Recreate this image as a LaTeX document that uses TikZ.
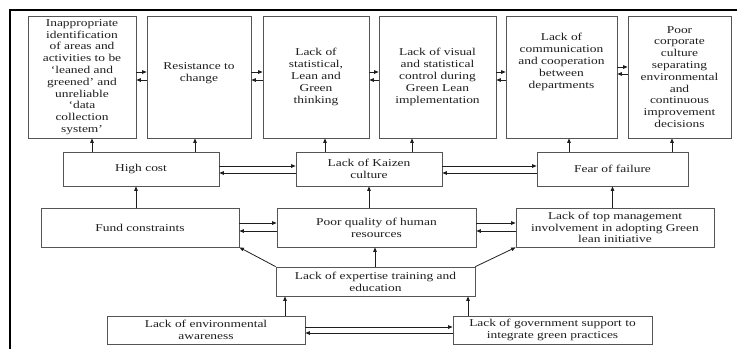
\documentclass[tikz,border=0pt]{standalone}
\usepackage{fontspec}
\setmainfont{Liberation Serif}[FakeStretch=1.28]
\usetikzlibrary{arrows.meta}
\definecolor{boxgray}{RGB}{85,85,85}
\definecolor{inkgray}{RGB}{30,30,30}

\begin{document}
\begin{tikzpicture}[x=1pt, y=-1pt,
    box/.style={draw=boxgray, line width=0.8pt, inner sep=0pt, align=center, text=inkgray,
      font=\fontsize{10.5}{11.8}\selectfont},
    topbox/.style={box, minimum height=122pt},
    arr/.style={-{Triangle[length=4.5pt,width=3.6pt]}, inkgray, line width=0.8pt}]
  \useasboundingbox (0,0) rectangle (737,349);
  % frame
  \draw[line width=2.4pt] (10,349) -- (10,10) -- (737,10);

  % top row
  \node[topbox, minimum width=108pt] (inap) at (82,77) {Inappropriate\\identification\\of areas and\\activities to be\\`leaned and\\greened' and\\unreliable\\`data\\collection\\system'};
  \node[topbox, minimum width=104pt] (resist) at (199,77) {};
  \node[box, draw=none] (resisttext) at (199,73) {Resistance to\\change};
  \node[topbox, minimum width=106pt] (stat) at (316,77) {Lack of\\statistical,\\Lean and\\Green\\thinking};
  \node[topbox, minimum width=117pt] (visual) at (437.5,77) {Lack of visual\\and statistical\\control during\\Green Lean\\implementation};
  \node[topbox, minimum width=111pt] (comm) at (561.5,77) {};
  \node[box, draw=none] (commtext) at (561.5,62) {Lack of\\communication\\and cooperation\\between\\departments};
  \node[topbox, minimum width=103pt] (culture) at (679.5,77) {Poor\\corporate\\culture\\separating\\environmental\\and\\continuous\\improvement\\decisions};

  % second row
  \node[box, minimum width=156pt, minimum height=34pt] (cost) at (141,169) {High cost};
  \node[box, minimum width=146pt, minimum height=34pt] (kaizen) at (369,169) {Lack of Kaizen\\culture};
  \node[box, minimum width=151pt, minimum height=34pt] (fear) at (612.5,169) {Fear of failure};

  % third row
  \node[box, minimum width=198pt, minimum height=39pt] (fund) at (140,227.5) {Fund constraints};
  \node[box, minimum width=199pt, minimum height=39pt] (human) at (376.5,227.5) {Poor quality of human\\resources};
  \node[box, minimum width=198pt, minimum height=39pt] (mgmt) at (615,227.5) {Lack of top management\\involvement in adopting Green\\lean initiative};

  % lower rows
  \node[box, minimum width=199pt, minimum height=29pt] (expert) at (375.5,281.5) {Lack of expertise training and\\education};
  \node[box, minimum width=198pt, minimum height=28pt] (env) at (206,330) {Lack of environmental\\awareness};
  \node[box, minimum width=199pt, minimum height=28pt] (gov) at (552.5,330) {Lack of government support to\\integrate green practices};

  % links along the top row
  \foreach \a/\b in {inap/resist, resist/stat, stat/visual, visual/comm} {
    \draw[arr] ([yshift=5pt]\a.east) -- ([yshift=5pt]\b.west);
    \draw[arr] ([yshift=-3pt]\b.west) -- ([yshift=-3pt]\a.east);
  }
  \draw[arr] ([yshift=10pt]comm.east) -- ([yshift=10pt]culture.west);
  \draw[arr] ([yshift=3pt]culture.west) -- ([yshift=3pt]comm.east);

  % second row up to top row
  \draw[arr] ([xshift=10pt]inap.south |- cost.north) -- ([xshift=10pt]inap.south);
  \draw[arr] ([xshift=-4pt]resist.south |- cost.north) -- ([xshift=-4pt]resist.south);
  \draw[arr] ([xshift=9pt]stat.south |- kaizen.north) -- ([xshift=9pt]stat.south);
  \draw[arr] ([xshift=-25.5pt]visual.south |- kaizen.north) -- ([xshift=-25.5pt]visual.south);
  \draw[arr] ([xshift=7.5pt]comm.south |- fear.north) -- ([xshift=7.5pt]comm.south);
  \draw[arr] ([xshift=-7.5pt]culture.south |- fear.north) -- ([xshift=-7.5pt]culture.south);

  % second row links
  \foreach \a/\b in {cost/kaizen, kaizen/fear} {
    \draw[arr] ([yshift=3pt]\a.east) -- ([yshift=3pt]\b.west);
    \draw[arr] ([yshift=-4pt]\b.west) -- ([yshift=-4pt]\a.east);
  }

  % third row
  \draw[arr] ([xshift=-5pt]cost.south |- fund.north) -- ([xshift=-5pt]cost.south);
  \draw[arr] (kaizen.south |- human.north) -- (kaizen.south);
  \draw[arr] (fear.south |- mgmt.north) -- (fear.south);
  \foreach \a/\b in {fund/human, human/mgmt} {
    \draw[arr] ([yshift=4.5pt]\a.east) -- ([yshift=4.5pt]\b.west);
    \draw[arr] ([yshift=-3.5pt]\b.west) -- ([yshift=-3.5pt]\a.east);
  }

  % expertise
  \draw[arr] ([xshift=-1.5pt]human.south |- expert.north) -- ([xshift=-1.5pt]human.south);
  \draw[arr] (expert.north west) -- (fund.south east);
  \draw[arr] (expert.north east) -- (mgmt.south west);

  % bottom row
  \draw[arr] ([xshift=-90.5pt]expert.south |- env.north) -- ([xshift=-90.5pt]expert.south);
  \draw[arr] ([xshift=92.5pt]expert.south |- gov.north) -- ([xshift=92.5pt]expert.south);
  \draw[arr] ([yshift=3pt]env.east) -- ([yshift=3pt]gov.west);
  \draw[arr] ([yshift=-3pt]gov.west) -- ([yshift=-3pt]env.east);
\end{tikzpicture}
\end{document}
